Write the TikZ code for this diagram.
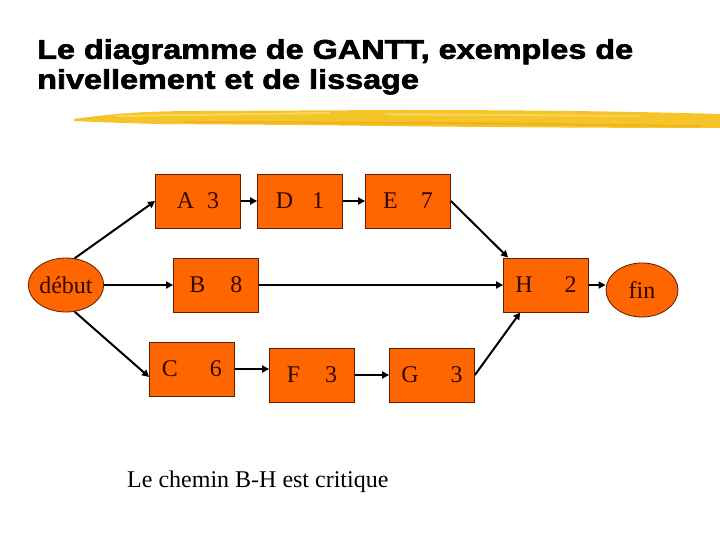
\documentclass[tikz,border=0pt]{standalone}
\usepackage{fontspec}
\setmainfont{Liberation Serif}
\newfontfamily\titlefont{Liberation Sans}[FakeStretch=1.2, FakeBold=2.5]
\usepackage{tikz}
\usetikzlibrary{arrows.meta, positioning, calc, shapes.geometric}
\usepackage{xcolor}
\definecolor{taskorange}{RGB}{255,102,0}
\definecolor{taskline}{RGB}{90,30,0}
\definecolor{tasktext}{RGB}{50,5,0}
\definecolor{brushmain}{RGB}{244,196,40}
\definecolor{brushlight}{RGB}{252,222,110}
\definecolor{brushdark}{RGB}{236,170,20}

\begin{document}
\begin{tikzpicture}[
    x=1pt, y=-1pt,
    font=\fontsize{24}{26}\selectfont,
    task/.style={draw=taskline, fill=taskorange, line width=0.8pt, minimum width=85pt, minimum height=54pt, inner sep=0pt, text=tasktext},
    event/.style={ellipse, draw=taskline, fill=taskorange, line width=0.8pt, minimum width=72pt, minimum height=54pt, inner sep=0pt, text=tasktext},
    arr/.style={-{Triangle[length=7pt,width=7pt]}, line width=2pt}
]
\useasboundingbox (0,0) rectangle (720,540);

% Title
\node[anchor=north west, inner sep=0pt, align=left, font=\titlefont\bfseries\fontsize{27}{30}\selectfont] (title) at (37,39)
    {Le diagramme de GANTT, exemples de\\nivellement et de lissage};

% Yellow brush stroke under the title
\fill[brushmain] (74,119) .. controls (110,114) and (140,111) .. (200,111)
    -- (400,110) .. controls (550,110) and (650,112) .. (720,114)
    -- (720,128) .. controls (600,128) and (450,127) .. (300,125)
    -- (160,124) .. controls (120,123) and (95,122) .. (74,121) -- cycle;
\fill[brushlight, opacity=0.7] (110,115) -- (330,112) -- (330,114) -- (120,117) -- cycle;
\fill[brushlight, opacity=0.6] (380,113) -- (640,115) -- (640,117) -- (390,115.5) -- cycle;
\fill[brushdark, opacity=0.6] (180,121) -- (460,122) -- (700,125) -- (700,127) -- (450,124.5) -- (190,123) -- cycle;

% Events
\node[event] (debut) at (66,285) {début};
\node[event] (fin) at (642,290) {fin};

% Tasks, upper row
\node[task] (A) at (198,201) {A\hspace{13pt}3};
\node[task] (D) at (300,201) {D\hspace{19pt}1};
\node[task] (E) at (408,201) {E\hspace{23pt}7};

% Task B (critical path)
\node[task] (B) at (216,285) {B\hspace{25pt}8};

% Tasks, lower row
\node[task] (C) at (192,369) {C\hspace{32pt}6};
\node[task] (F) at (312,375) {F\hspace{25pt}3};
\node[task] (G) at (432,375) {G\hspace{32pt}3};

% Final task
\node[task] (H) at (546,285) {H\hspace{32pt}2};

% Note
\node[anchor=base west, inner sep=0pt, font=\fontsize{24}{26}\selectfont] (note) at (127,487) {Le chemin B-H est critique};

% Arrows
\draw[arr] (debut.72) -- (A.west);
\draw[arr] (debut) -- (B);
\draw[arr] (debut.-72) -- ([yshift=-8pt]C.west);
\draw[arr] (A) -- (D);
\draw[arr] (D) -- (E);
\draw[arr] (E.east) -- ([xshift=5pt]H.north west);
\draw[arr] (B) -- (H);
\draw[arr] (C.east) -- (C.east -| F.west);
\draw[arr] (F) -- (G);
\draw[arr] (G.east) -- ($(H.south west)!0.2!(H.south east)$);
\draw[arr] (H.east) -- (fin.west |- H.east);

\end{tikzpicture}
\end{document}
